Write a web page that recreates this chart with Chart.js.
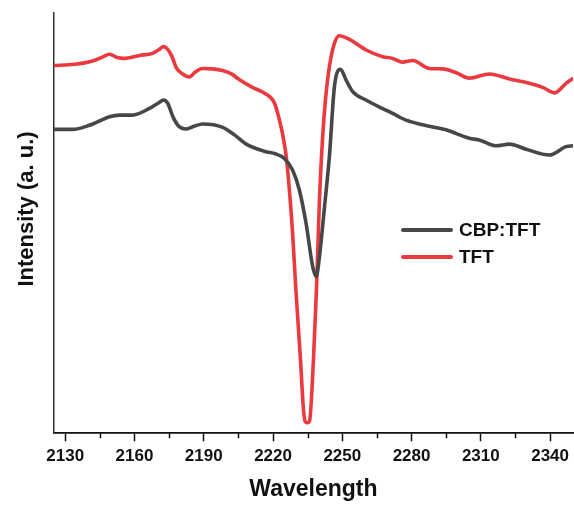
<!DOCTYPE html>
<html>
<head>
<meta charset="utf-8">
<script src="https://cdn.jsdelivr.net/npm/chart.js@4"></script>
<style>
  html, body { margin: 0; padding: 0; background: #ffffff; }
  #wrap { width: 574px; height: 505px; position: relative; }
</style>
</head>
<body>
<div id="wrap"><canvas id="c" width="574" height="505"></canvas></div>
<script>
// ---- data ----
const seriesNames = ["CBP:TFT", "TFT"];

const cbpX = [2125, 2133.2, 2140.5, 2144.8, 2149.2, 2153.5, 2159.1, 2166.5, 2170.4, 2172.6,
  2174.3, 2176.9, 2179.5, 2182.4, 2186.0, 2189.6, 2198.2, 2203.3, 2208.4, 2217.0,
  2221.0, 2224.9, 2228.5, 2231.4, 2234.3, 2237.2, 2238.7, 2240.1, 2242.3, 2244.4,
  2246.6, 2249.2, 2251.6, 2254.5, 2260.3, 2266.1, 2271.8, 2277.6, 2284.8, 2294.9,
  2305.0, 2309.3, 2316.6, 2322.4, 2329.6, 2339.7, 2346.9, 2350];
const cbpY = [72.3, 72.3, 73.3, 74.3, 75.3, 75.7, 75.7, 77.3, 78.6, 79.3,
  78.6, 75.0, 72.9, 72.4, 73.1, 73.6, 72.8, 71.0, 68.8, 67.0,
  66.5, 65.4, 62.6, 57.9, 50.0, 39.6, 37.3, 42.0, 53.9, 65.8,
  82.5, 86.6, 84.1, 81.3, 79.3, 77.6, 76.1, 74.5, 73.4, 72.2,
  70.2, 69.8, 68.4, 68.8, 67.6, 66.2, 68.2, 68.4];

const tftX = [2125, 2134.0, 2141.8, 2146.1, 2149.2, 2152.6, 2155.2, 2162.2, 2167.8, 2170.4,
  2172.6, 2174.3, 2176.1, 2178.2, 2180.8, 2183.8, 2186.4, 2189.4, 2193.8, 2198.1,
  2202.0, 2205.5, 2211.1, 2215.4, 2218.5, 2220.6, 2222.8, 2224.6, 2225.9, 2228.4,
  2229.9, 2231.9, 2233.2, 2234.0, 2234.9, 2235.8, 2237.5, 2238.8, 2240.1, 2241.4,
  2242.7, 2244.4, 2246.6, 2248.7, 2253.1, 2260.3, 2267.5, 2271.8, 2276.1, 2280.5,
  2287.7, 2293.5, 2299.3, 2305.0, 2313.7, 2322.4, 2331.0, 2336.8, 2341.9, 2347.0, 2350];
const tftY = [87.5, 87.8, 88.6, 89.5, 90.2, 89.4, 89.2, 89.9, 90.4, 91.2,
  92.0, 91.4, 89.8, 86.9, 85.5, 84.8, 86.0, 86.8, 86.7, 86.3,
  85.5, 84.1, 82.3, 81.2, 80.1, 78.6, 74.5, 69.8, 65.0, 48.2,
  34.1, 17.4, 5.5, 2.7, 2.5, 2.9, 17.4, 34.1, 55.5, 69.8,
  79.3, 87.2, 92.8, 94.6, 93.7, 91.2, 89.6, 89.2, 88.3, 88.7,
  86.8, 86.7, 85.8, 84.5, 85.5, 84.3, 83.3, 82.3, 81.0, 83.3, 84.5];

const xTickValues = [2130, 2145, 2160, 2175, 2190, 2205, 2220, 2235, 2250, 2265, 2280, 2295, 2310, 2325, 2340];
const xMajorStep = 30;
const xTitle = "Wavelength";
const yTitle = "Intensity (a. u.)";

// ---- styles ----
const colors = ["#474747", "#EA3A3F"];
const FONT = "'Liberation Sans', Arial, Helvetica, sans-serif";

function pts(xs, ys) { return xs.map((x, i) => ({ x: x, y: ys[i] })); }

const minorTicks = {
  id: 'minorTicks',
  afterDraw(chart) {
    const ctx = chart.ctx, xs = chart.scales.x, area = chart.chartArea;
    ctx.save();
    ctx.strokeStyle = '#111';
    ctx.lineWidth = 1.5;
    xTickValues.forEach(v => {
      if (v % xMajorStep === 0) return;
      const px = Math.round(xs.getPixelForValue(v)) + 0.5;
      ctx.beginPath();
      ctx.moveTo(px, area.bottom);
      ctx.lineTo(px, area.bottom + 5);
      ctx.stroke();
    });
    ctx.restore();
  }
};

const yTitlePlugin = {
  id: 'yTitlePlugin',
  afterDraw(chart) {
    const ctx = chart.ctx;
    ctx.save();
    ctx.translate(27, 209);
    ctx.rotate(-Math.PI / 2);
    ctx.font = "bold 22px " + FONT;
    ctx.fillStyle = '#111';
    ctx.textAlign = 'center';
    ctx.textBaseline = 'middle';
    ctx.fillText(yTitle, 0, 0);
    ctx.restore();
  }
};

const legendPlugin = {
  id: 'customLegend',
  afterDraw(chart) {
    const ctx = chart.ctx;
    const rows = [230, 257];
    ctx.save();
    chart.data.datasets.forEach((ds, i) => {
      const y = rows[i];
      ctx.strokeStyle = ds.borderColor;
      ctx.lineWidth = 4;
      ctx.lineCap = 'round';
      ctx.beginPath();
      ctx.moveTo(403, y);
      ctx.lineTo(451, y);
      ctx.stroke();
      ctx.font = "bold 19px " + FONT;
      ctx.fillStyle = '#111';
      ctx.textAlign = 'left';
      ctx.textBaseline = 'middle';
      ctx.fillText(ds.label, 459, y + 0.5);
    });
    ctx.restore();
  }
};

new Chart(document.getElementById('c'), {
  type: 'line',
  data: {
    datasets: [
      { label: seriesNames[0], data: pts(cbpX, cbpY), borderColor: colors[0], borderWidth: 3.6,
        pointRadius: 0, fill: false, cubicInterpolationMode: 'monotone' },
      { label: seriesNames[1], data: pts(tftX, tftY), borderColor: colors[1], borderWidth: 3.6,
        pointRadius: 0, fill: false, cubicInterpolationMode: 'monotone' }
    ]
  },
  options: {
    responsive: false,
    animation: false,
    devicePixelRatio: 1,
    layout: { padding: { top: 13, left: 0, right: 0, bottom: 0 } },
    plugins: { legend: { display: false }, tooltip: { enabled: false } },
    scales: {
      x: {
        type: 'linear',
        min: 2125, max: 2350,
        afterBuildTicks: (scale) => { scale.ticks = xTickValues.map(v => ({ value: v })); },
        afterFit: (scale) => { scale.height = 71.7; },
        ticks: {
          autoSkip: false, maxRotation: 0, padding: 5,
          color: '#111',
          font: { family: FONT, size: 17, weight: 'bold' },
          callback: (v) => (v % xMajorStep === 0 ? String(v) : '')
        },
        grid: {
          display: true, drawOnChartArea: false, tickLength: 8, tickWidth: 1.5,
          tickColor: (c) => (c.tick && c.tick.value % xMajorStep === 0 ? '#111' : 'rgba(0,0,0,0)')
        },
        border: { display: true, color: '#111', width: 1.8 },
        title: {
          display: true, text: xTitle, color: '#111',
          font: { family: FONT, size: 23, weight: 'bold' },
          padding: { top: 0, bottom: 2 }
        }
      },
      y: {
        min: 0, max: 100,
        afterFit: (scale) => { scale.width = 53.7; },
        ticks: { display: false },
        grid: { display: true, drawOnChartArea: false, drawTicks: false },
        border: { display: true, color: '#333', width: 1.5 }
      }
    }
  },
  plugins: [minorTicks, yTitlePlugin, legendPlugin]
});
</script>
</body>
</html>
